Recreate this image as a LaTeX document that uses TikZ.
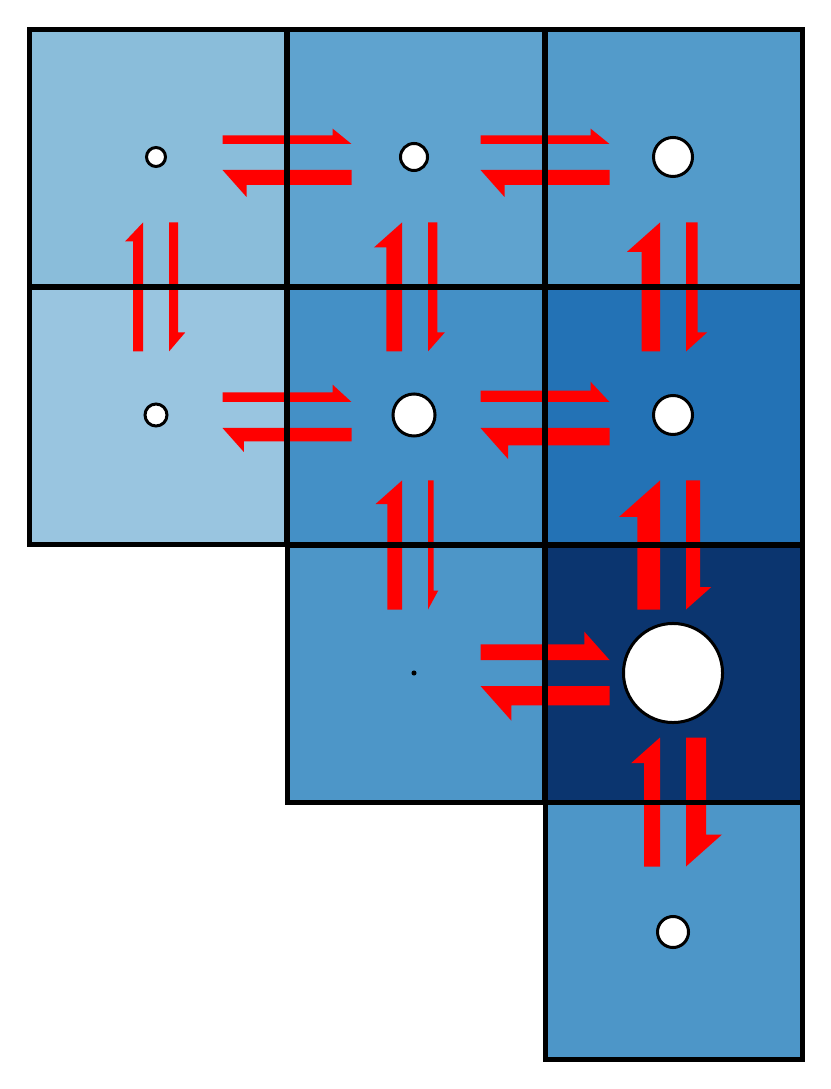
\documentclass[tikz,border=0pt]{standalone}
\usepackage{tikz}
\usetikzlibrary{backgrounds}

\definecolor{blueA}{HTML}{8ABDDA}
\definecolor{blueB}{HTML}{5FA3CF}
\definecolor{blueC}{HTML}{539BCA}
\definecolor{blueD}{HTML}{99C5E0}
\definecolor{blueE}{HTML}{4490C6}
\definecolor{blueF}{HTML}{2372B5}
\definecolor{blueG}{HTML}{4D96C8}
\definecolor{blueH}{HTML}{0B356F}

\begin{document}
\begin{tikzpicture}[x=0.01cm, y=-0.01cm]
\tikzstyle{cell}=[inner sep=0pt, outer sep=0pt, minimum size=2.576cm]
\tikzstyle{gridline}=[draw=black, line width=0.05cm]
\tikzstyle{site}=[circle, draw=black, fill=white, line width=0.03cm, inner sep=0pt]
\tikzstyle{flux}=[fill=red]
\useasboundingbox (0,0) rectangle (830,1089);
% cells
\node[cell, fill=blueA] (c00) at (158,158) {};
\node[cell, fill=blueB] (c10) at (416,158) {};
\node[cell, fill=blueC] (c20) at (674,158) {};
\node[cell, fill=blueD] (c01) at (158,416) {};
\node[cell, fill=blueE] (c11) at (416,416) {};
\node[cell, fill=blueF] (c21) at (674,416) {};
\node[cell, fill=blueG] (c12) at (416,674) {};
\node[cell, fill=blueH] (c22) at (674,674) {};
\node[cell, fill=blueG] (c23) at (674,931) {};
% half arrows: x/y of boundary, rotation, thickness
\foreach \ax/\ay/\rot/\t in {
  287/157/0/8.6, 287/157/180/15,
  545/157/0/8.6, 545/157/180/15,
  287/415/0/9.7, 287/415/180/13.3,
  545/415/0/11.3, 545/415/180/17.3,
  545/673/0/15.7, 545/673/180/19.3,
  156/287/90/10, 156/287/-90/9,
  415/287/90/15.6, 415/287/-90/9.3,
  673/287/90/18.3, 673/287/-90/11.7,
  415/545/90/14.7, 415/545/-90/5.7,
  673/545/90/22.7, 673/545/-90/14,
  673/802/90/16, 673/802/-90/20}
{
  \pgfmathsetmacro\hw{1.8*\t}
  \pgfmathsetmacro\hl{max(19,1.6*\t)}
  \fill[flux, shift={(\ax,\ay)}, rotate=\rot]
    (-64.5,-13) -- (64.5,-13) -- ({64.5-\hl},{-13-\hw})
    -- ({64.5-\hl},{-13-\t}) -- (-64.5,{-13-\t}) -- cycle;
}
% grid on top
\foreach \c in {c00,c10,c20,c01,c11,c21,c12,c22,c23}
  \draw[gridline] (\c.north west) rectangle (\c.south east);
% sites
\node[site, minimum size=0.19cm] (s00) at (156,157) {};
\node[site, minimum size=0.27cm] (s10) at (414,157) {};
\node[site, minimum size=0.39cm] (s20) at (673,157) {};
\node[site, minimum size=0.22cm] (s01) at (156,415) {};
\node[site, minimum size=0.42cm] (s11) at (414,415) {};
\node[site, minimum size=0.39cm] (s21) at (673,415) {};
\node[site, fill=black, minimum size=0.04cm, line width=0.01cm] (s12) at (414,673) {};
\node[site, minimum size=0.99cm] (s22) at (673,673) {};
\node[site, minimum size=0.31cm] (s23) at (673,932) {};
\end{tikzpicture}
\end{document}
